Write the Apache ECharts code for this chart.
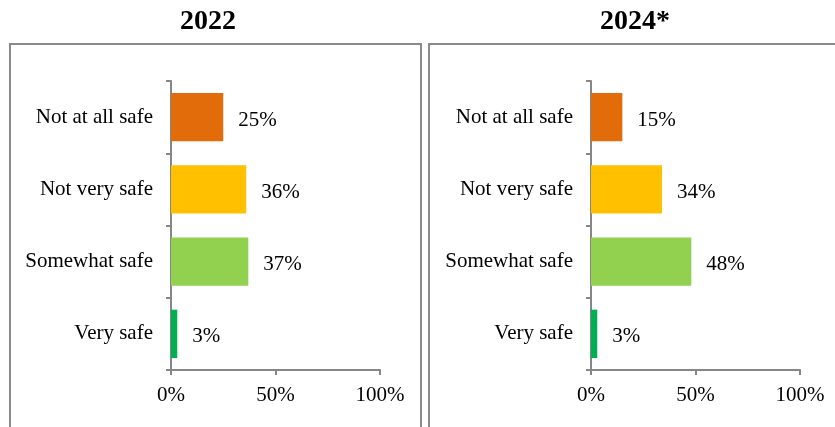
<!DOCTYPE html>
<html lang="en">
<head>
  <meta charset="UTF-8">
  <title>Safety 2022 vs 2024</title>
  <script src="https://cdn.jsdelivr.net/npm/echarts@6/dist/echarts.min.js"></script>
  <style>
    html, body { margin: 0; padding: 0; background: #fff; }
    #chart { width: 835px; height: 427px; }
  </style>
</head>
<body>
<div id="chart"></div>
<script>
// data, top to bottom as in the picture
const categories = ['Not at all safe', 'Not very safe', 'Somewhat safe', 'Very safe'];
const values2022 = [25, 36, 37, 3];
const values2024 = [15, 34, 48, 3];
const barColors = ['#E36C0A', '#FFC000', '#92D050', '#00B050'];
const panelTitles = ['2022', '2024*'];
const xTicks = [0, 50, 100];

const font = '"Liberation Serif", "Times New Roman", serif';
const axisColor = '#868686';

function makeData(vals) {
  return vals.map((v, i) => ({ value: v, itemStyle: { color: barColors[i] } }));
}

let grids = [
  { left: 171, top: 81, width: 209, height: 289 },
  { left: 591, top: 81, width: 209, height: 289 }
];

let xAxes = grids.map((g, i) => ({
  type: 'value',
  gridIndex: i,
  min: xTicks[0],
  max: xTicks[xTicks.length - 1],
  interval: xTicks[1] - xTicks[0],
  splitLine: { show: false },
  axisLine: { show: true, lineStyle: { color: axisColor, width: 2 } },
  axisTick: { show: true, length: 5, lineStyle: { color: axisColor, width: 2 } },
  axisLabel: { formatter: '{value}%', color: '#000', fontFamily: font, fontSize: 21, margin: 15 }
}));

let yAxes = grids.map((g, i) => ({
  type: 'category',
  gridIndex: i,
  data: categories,
  inverse: true,
  axisLine: { show: true, lineStyle: { color: axisColor, width: 2 } },
  axisTick: { show: true, length: 5, lineStyle: { color: axisColor, width: 2 } },
  axisLabel: { color: '#000', fontFamily: font, fontSize: 21, margin: 18 }
}));

let series = [values2022, values2024].map((vals, i) => ({
  type: 'bar',
  xAxisIndex: i,
  yAxisIndex: i,
  barCategoryGap: '33%',
  data: makeData(vals),
  label: {
    show: true,
    position: 'right',
    distance: 15,
    formatter: '{c}%',
    color: '#000',
    fontFamily: font,
    fontSize: 21,
    offset: [0, 3]
  }
}));

let myChart = echarts.init(document.getElementById('chart'), null, { renderer: 'canvas' });
myChart.setOption({
  animation: false,
  grid: grids,
  xAxis: xAxes,
  yAxis: yAxes,
  series: series,
  graphic: [
    // panel frames
    { type: 'rect', shape: { x: 10, y: 44, width: 411, height: 420 },
      style: { fill: null, stroke: '#8a8a8a', lineWidth: 2 }, silent: true },
    { type: 'rect', shape: { x: 429, y: 44, width: 430, height: 420 },
      style: { fill: null, stroke: '#8a8a8a', lineWidth: 2 }, silent: true },
    // panel titles
    { type: 'text', x: 208, y: 8,
      style: { text: panelTitles[0], textAlign: 'center', fill: '#000',
               font: 'bold 28px ' + font } },
    { type: 'text', x: 635, y: 8,
      style: { text: panelTitles[1], textAlign: 'center', fill: '#000',
               font: 'bold 28px ' + font } }
  ]
});
</script>
</body>
</html>
